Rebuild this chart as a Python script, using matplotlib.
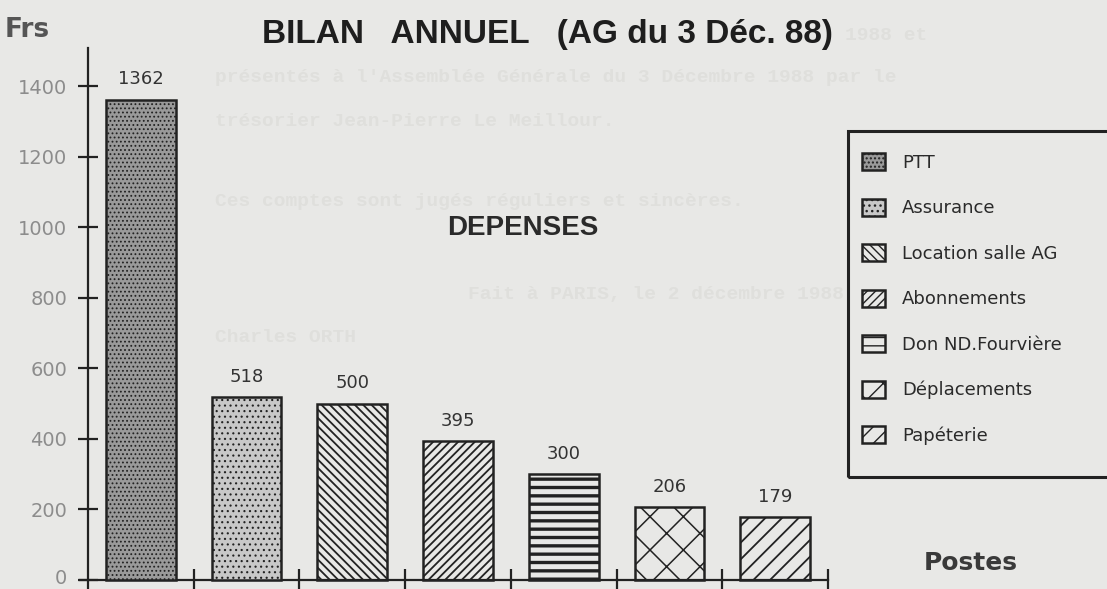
"""Bilan annuel - dépenses (bar chart, scanned style)"""
import numpy as np
import matplotlib
matplotlib.use('Agg')
import matplotlib.pyplot as plt
import matplotlib.transforms as mtransforms
from matplotlib.patches import Rectangle

# Data
postes = ['PTT', 'Assurance', 'Location salle AG', 'Abonnements',
          'Don ND.Fourvière', 'Déplacements', 'Papéterie']
montants = [1362, 518, 500, 395, 300, 206, 179]
yticks = [0, 200, 400, 600, 800, 1000, 1200, 1400]

# Patterns for each bar
hatches = ['....', '...', '\\\\\\\\', '////', '--', 'x', '//']
faces = ['#9a9a9a', '#c8c8c8', 'none', 'none', 'none', 'none', 'none']
hatch_lw = [0.8, 0.8, 1.3, 1.3, 2.4, 1.1, 1.3]

bg = '#e8e8e6'
ink = '#222222'
plt.rcParams['font.family'] = ['Liberation Sans', 'DejaVu Sans']

W, H = 1107, 589
fig = plt.figure(figsize=(W / 100, H / 100), dpi=100)
fig.patch.set_facecolor(bg)

# Faint text showing through from the scanned page
ghost = '#dfdfdc'
ghost_lines = [
    (845, 35, "1988 et"),
    (215, 78, "présentés à l'Assemblée Générale du 3 Décembre 1988 par le"),
    (215, 121, "trésorier Jean-Pierre Le Meillour."),
    (215, 201, "Ces comptes sont jugés réguliers et sincères."),
    (468, 295, "Fait à PARIS, le 2 décembre 1988"),
    (215, 337, "Charles ORTH"),
]
for gx, gy, txt in ghost_lines:
    fig.text(gx / W, 1 - gy / H, txt, fontsize=14, family='Liberation Mono',
             fontweight='bold', color=ghost, va='center', ha='left', zorder=0)

# Axes placed so that y=0 sits at 580 px and x runs 88 -> 828 px
ax = fig.add_axes([79.5 / W, 0, (828 - 79.5) / W, (H - 48) / H])
ax.patch.set_visible(False)
ax.set_xlim(-0.08, 7)
ax.set_ylim(-25.5, 1508)

x = np.arange(len(montants)) + 0.5
bars = []
for i in range(len(montants)):
    b = ax.bar(x[i], montants[i], width=0.66, facecolor=faces[i],
               edgecolor=ink, linewidth=1.8, hatch=hatches[i], zorder=3)
    patch = b.patches[0]
    if hasattr(patch, 'set_hatch_linewidth'):
        patch.set_hatch_linewidth(hatch_lw[i])
    bars.append(patch)
    ax.annotate(str(montants[i]), (x[i], montants[i]), xytext=(0, 8),
                textcoords='offset points', ha='center', va='bottom',
                fontsize=13, family='DejaVu Sans', color='#333333')

for s in ['top', 'right']:
    ax.spines[s].set_visible(False)
for s in ['left', 'bottom']:
    ax.spines[s].set_position(('data', 0))
    ax.spines[s].set_linewidth(1.6)
    ax.spines[s].set_color(ink)

ax.set_xticks(range(1, 8))
ax.set_xticklabels([])
ax.tick_params(axis='x', direction='inout', length=16, width=1.6, color=ink)
ax.set_yticks(yticks)
ax.set_yticklabels([str(v) for v in yticks], family='DejaVu Sans')
ax.tick_params(axis='y', direction='inout', length=14, width=1.6, color=ink,
               labelsize=14, labelcolor='#8c8c8c', pad=8)
# nudge the "0" label up a little so it stays inside the picture
lab0 = ax.get_yticklabels()[0]
lab0.set_transform(lab0.get_transform() +
                   mtransforms.ScaledTranslation(0, 2.5 / 72, fig.dpi_scale_trans))

# Titles and axis names
fig.text(262 / W, 1 - 43 / H, 'BILAN   ANNUEL   (AG du 3 Déc. 88)',
         fontsize=24, fontweight='bold', color='#1e1e1e', va='baseline')
fig.text(5 / W, 1 - 30 / H, 'Frs', fontsize=19, fontweight='bold',
         color='#555555', va='center', family='DejaVu Sans')
fig.text(523 / W, 1 - 228 / H, 'DEPENSES', fontsize=20, fontweight='bold',
         color='#2a2a2a', ha='center', va='center')
fig.text(971 / W, 1 - 563 / H, 'Postes', fontsize=18, color='#3a3a3a',
         ha='center', va='center', family='DejaVu Sans', fontweight='semibold')

# Legend with its own frame running off the right edge
fig.add_artist(Rectangle((848 / W, 1 - 477 / H), 0.3, (477 - 131) / H,
                         transform=fig.transFigure, fill=False,
                         linewidth=2.2, edgecolor=ink))
fig.legend(bars, postes, loc='upper left',
           bbox_to_anchor=(862 / W, 1 - 153 / H), frameon=False,
           borderpad=0, borderaxespad=0,
           prop={'family': 'DejaVu Sans', 'size': 13},
           handlelength=1.28, handleheight=1.1, handletextpad=0.95,
           labelspacing=1.48, labelcolor='#2a2a2a')

fig.savefig('out.png', dpi=100, facecolor=bg)
